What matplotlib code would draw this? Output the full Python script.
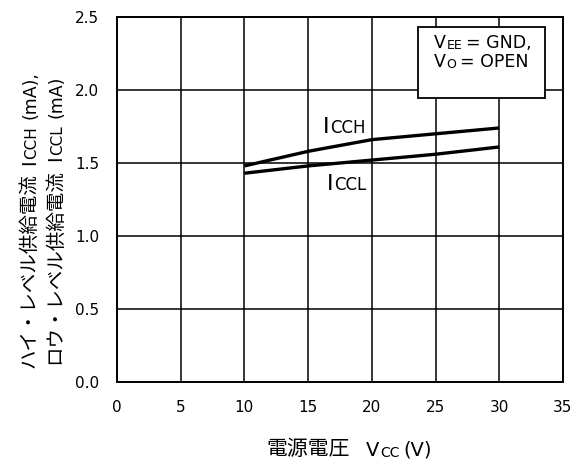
import numpy as np
import matplotlib
matplotlib.use('Agg')
import matplotlib.pyplot as plt
from matplotlib.patches import Rectangle

# data
vcc = [10, 15, 20, 25, 30]
icch = [1.48, 1.58, 1.66, 1.70, 1.74]
iccl = [1.43, 1.48, 1.52, 1.56, 1.61]
xticks = [0, 5, 10, 15, 20, 25, 30, 35]
yticks = [0.0, 0.5, 1.0, 1.5, 2.0, 2.5]
ylabels = ['0.0', '0.5', '1.0', '1.5', '2.0', '2.5']

JP = ['Noto Sans CJK JP', 'DejaVu Sans']
LAT = ['DejaVu Sans']
W, H = 581, 468

fig = plt.figure(figsize=(W / 100, H / 100), dpi=100)
ax = fig.add_axes([117 / W, 1 - 382 / H, (563 - 117) / W, (382 - 17) / H])

ax.plot(vcc, icch, color='black', lw=2.4, solid_capstyle='butt', zorder=3)
ax.plot(vcc, iccl, color='black', lw=2.4, solid_capstyle='butt', zorder=3)

ax.set_xlim(0, 35)
ax.set_ylim(0, 2.5)
ax.set_xticks(xticks)
ax.set_yticks(yticks)
ax.set_yticklabels(ylabels)
ax.grid(True, color='black', lw=1.1)
ax.tick_params(length=0, pad=13, labelsize=11)
for lab in ax.get_xticklabels() + ax.get_yticklabels():
    lab.set_family(LAT)
for s in ax.spines.values():
    s.set_linewidth(1.4)


def px(x, y):
    return x / W, 1 - y / H


def chain(x, y, pieces, rotated=False):
    # pieces: (text, size, gap_pt, family)
    prev = None
    for txt, size, gap, fam in pieces:
        if prev is None:
            if rotated:
                prev = fig.text(*px(x, y), txt, fontsize=size, family=fam, rotation=90,
                                rotation_mode='anchor', ha='left', va='baseline')
            else:
                prev = fig.text(*px(x, y), txt, fontsize=size, family=fam,
                                ha='left', va='baseline')
        else:
            if rotated:
                prev = ax.annotate(txt, xy=(1, 1), xycoords=prev, xytext=(0, gap),
                                   textcoords='offset points', fontsize=size, family=fam,
                                   rotation=90, ha='right', va='bottom')
            else:
                prev = ax.annotate(txt, xy=(1, 0), xycoords=prev, xytext=(gap, 0),
                                   textcoords='offset points', fontsize=size, family=fam,
                                   ha='left', va='bottom')
    return prev


# curve labels
chain(323, 133, [('I', 16, 0, LAT), ('CCH', 12, 0.5, LAT)])
chain(327, 190, [('I', 16, 0, LAT), ('CCL', 12, 0.5, LAT)])

# condition box
ax.add_patch(Rectangle((0.675, 0.778), 0.285, 0.195, transform=ax.transAxes,
                       facecolor='white', edgecolor='black', lw=1.3, zorder=4))
chain(434, 48, [('V', 12.5, 0, LAT), ('EE', 9, 0.3, LAT), ('= GND,', 12.5, 3, LAT)])
chain(434, 67, [('V', 12.5, 0, LAT), ('O', 9, 0.3, LAT), ('= OPEN', 12.5, 3, LAT)])
for t in fig.texts + ax.texts:
    t.set_zorder(5)

# x label
chain(266, 455, [('電源電圧', 15, 0, JP), ('V', 14, 12, LAT), ('CC', 10, 0.3, LAT),
                 ('(V)', 14, 3, LAT)])

# y label, two columns
chain(34, 368, [('ハイ・レベル供給電流', 14, 0, JP), ('I', 14, 6, LAT), ('CCH', 11, 0.3, LAT),
                ('(mA),', 12.5, 5, LAT)], rotated=True)
chain(60, 364, [('ロウ・レベル供給電流', 14, 0, JP), ('I', 14, 6, LAT), ('CCL', 11, 0.3, LAT),
                ('(mA)', 12.5, 5, LAT)], rotated=True)

fig.savefig('out.png', dpi=100)
